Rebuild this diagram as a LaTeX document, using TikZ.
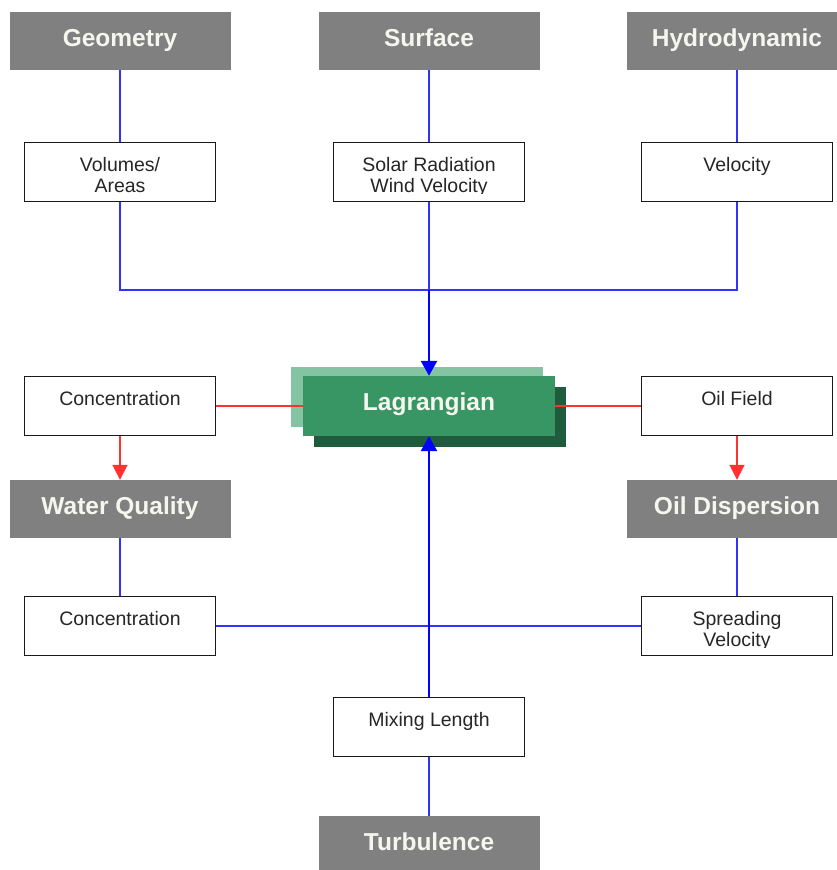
\documentclass[tikz,border=0pt]{standalone}
\usepackage{fontspec}
\setmainfont{Liberation Sans}
\usetikzlibrary{arrows.meta}
\definecolor{graybox}{RGB}{128,128,128}
\definecolor{labeltext}{RGB}{246,246,240}
\definecolor{lagmain}{RGB}{56,150,101}
\definecolor{laglight}{RGB}{133,196,162}
\definecolor{lagdark}{RGB}{31,92,61}
\definecolor{linkblue}{RGB}{50,50,255}
\definecolor{linkred}{RGB}{255,50,50}
\tikzset{
  category/.style={fill=graybox, minimum width=221pt, minimum height=58pt, inner sep=0pt,
    text height=17pt, text depth=7pt,
    text=labeltext, font=\fontsize{24.5}{28}\selectfont\bfseries},
  databox/.style={draw=black!90, line width=1.8pt, fill=white, minimum width=191pt,
    minimum height=59pt, inner sep=0pt},
  boxtext/.style={anchor=north, font=\fontsize{19.5}{21}\selectfont, align=center,
    inner sep=0pt, text=black!85},
  lagbase/.style={minimum width=252pt, minimum height=60pt, inner sep=0pt},
  lagnode/.style={lagbase, fill=lagmain, text=labeltext, text height=17pt, text depth=9pt,
    font=\fontsize{24.5}{28}\selectfont\bfseries},
  bluelink/.style={draw=linkblue, line width=2pt},
  bluearrow/.style={draw=blue, line width=2.6pt, -{Triangle[width=16pt,length=15pt]}},
  redlink/.style={draw=linkred, line width=1.8pt},
  redarrow/.style={redlink, -{Triangle[width=15pt,length=15pt]}},
}
\newcommand{\boxlabel}[2]{%
  \begin{scope}
    \clip (#1.north west) rectangle ([yshift=9pt]#1.south east);
    \node[boxtext] (#1-text) at ([yshift=-16pt]#1.north) {#2};
  \end{scope}}
\begin{document}
\begin{tikzpicture}[x=1pt,y=-1pt]
\useasboundingbox (0,0) rectangle (837,870);
% category boxes
\node[category] (geo) at (120,41) {Geometry};
\node[category] (surf) at (429,41) {Surface};
\node[category] (hydro) at (737,41) {Hydrodynamic};
\node[category] (wq) at (120,509) {Water Quality};
\node[category] (oild) at (737,509) {Oil Dispersion};
\node[category] (turb) at (429,845) {Turbulence};
% data boxes
\node[databox] (vol) at (120,172) {};
\node[databox] (solar) at (429,172) {};
\node[databox] (vel) at (737,172) {};
\node[databox] (conc1) at (120,406) {};
\node[databox] (oilf) at (737,406) {};
\node[databox] (conc2) at (120,626) {};
\node[databox] (spread) at (737,626) {};
\node[databox] (mix) at (429,727) {};
\boxlabel{vol}{Volumes/\\Areas}
\boxlabel{solar}{Solar Radiation\\Wind Velocity}
\boxlabel{vel}{Velocity}
\boxlabel{conc1}{Concentration}
\boxlabel{oilf}{Oil Field}
\boxlabel{conc2}{Concentration}
\boxlabel{spread}{Spreading\\Velocity}
\boxlabel{mix}{Mixing Length}
% Lagrangian with offset layers
\node[lagbase, fill=laglight] (lagL) at (417,397) {};
\node[lagbase, fill=lagdark] (lagD) at (440,417) {};
\coordinate (junc) at (429,290);
% connectors
\draw[bluelink] (geo) -- (vol);
\draw[bluelink] (surf) -- (solar);
\draw[bluelink] (hydro) -- (vel);
\draw[bluelink] (vol.south) |- (junc);
\draw[bluelink] (vel.south) |- (junc);
\draw[bluelink] (solar.south) -- (junc);
\draw[redlink] (conc1.east) -- (303,406);
\draw[redlink] (oilf.west) -- (555,406);
\node[lagnode] (lag) at (429,406) {Lagrangian};
\draw[bluearrow] (junc) -- (lag.north);
\draw[redarrow] (conc1) -- (wq);
\draw[redarrow] (oilf) -- (oild);
\draw[bluelink] (wq) -- (conc2);
\draw[bluelink] (oild) -- (spread);
\draw[bluelink] (conc2.east) -- (spread.west);
\draw[bluearrow] (mix.north) -- (lag.south);
\draw[bluelink] (turb) -- (mix);
\end{tikzpicture}
\end{document}
